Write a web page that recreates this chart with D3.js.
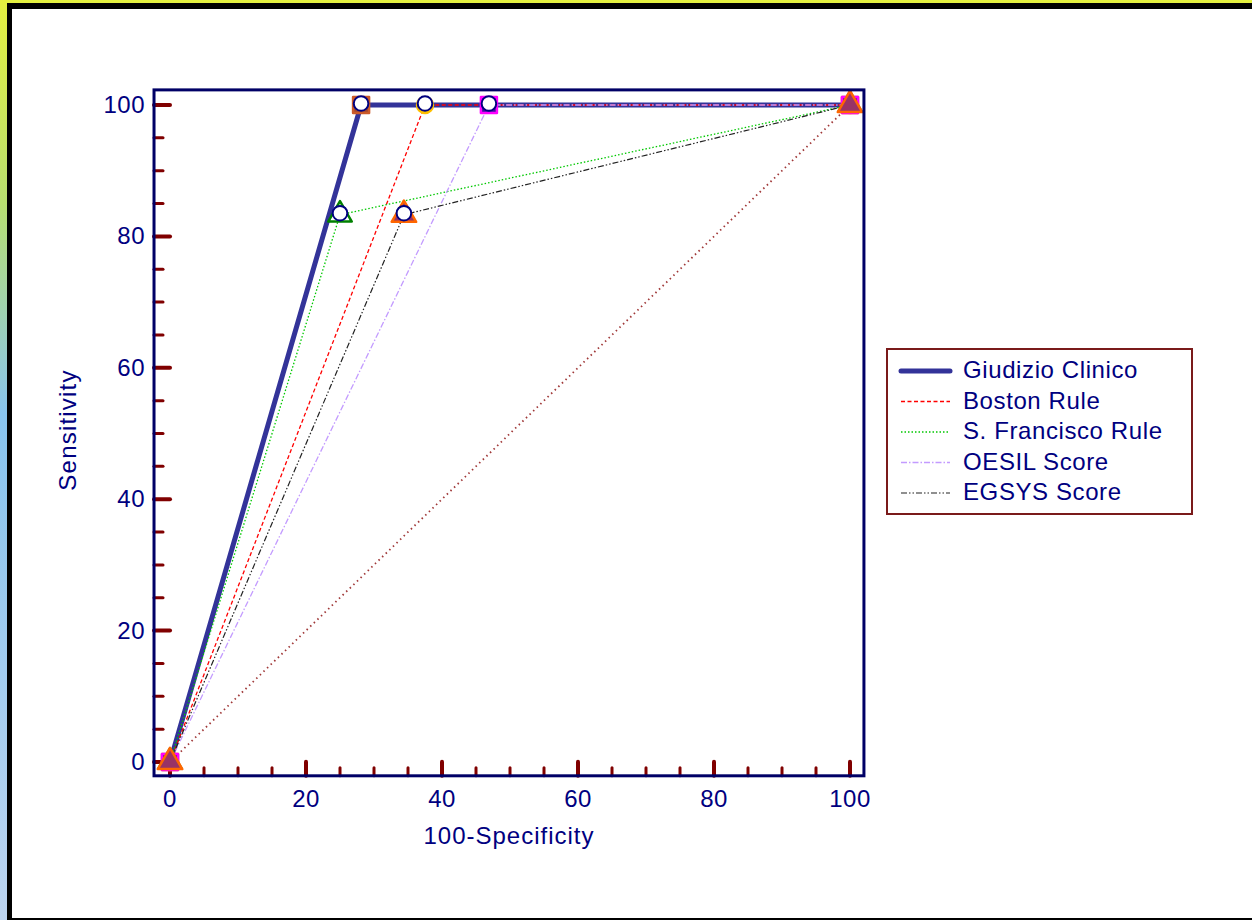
<!DOCTYPE html>
<html>
<head>
<meta charset="utf-8">
<script src="https://cdn.jsdelivr.net/npm/d3@7"></script>
<style>
  body { margin: 0; background: #fff; }
  text { font-family: "Liberation Sans", Arial, sans-serif; fill: #000080; }
</style>
</head>
<body>
<script>
// ROC data (100-Specificity, Sensitivity)
var seriesNames = ["Giudizio Clinico", "Boston Rule", "S. Francisco Rule", "OESIL Score", "EGSYS Score"];
var giudizioX = [0, 28.1, 100], giudizioY = [0, 100, 100];
var bostonX = [0, 37.5, 100], bostonY = [0, 100, 100];
var sfX = [0, 25.0, 100], sfY = [0, 83.3, 100];
var oesilX = [0, 46.9, 100], oesilY = [0, 100, 100];
var egsysX = [0, 34.4, 100], egsysY = [0, 83.3, 100];
// optimal criterion points (open circles)
var critX = [28.1, 37.5, 46.9, 25.0, 34.4];
var critY = [100, 100, 100, 83.3, 83.3];
var diagX = [0, 100], diagY = [0, 100];
var xTicks = [0, 20, 40, 60, 80, 100];
var yTicks = [0, 20, 40, 60, 80, 100];

var W = 1252, H = 920;
var svg = d3.select("body").append("svg")
	.attr("width", W)
	.attr("height", H);

// page decoration
var grad = svg.append("defs").append("linearGradient")
	.attr("id", "edge").attr("x1", 0).attr("y1", 0).attr("x2", 0).attr("y2", 1);
grad.append("stop").attr("offset", "0%").attr("stop-color", "#e4f040");
grad.append("stop").attr("offset", "22%").attr("stop-color", "#b8e070");
grad.append("stop").attr("offset", "45%").attr("stop-color", "#88c4ee");
grad.append("stop").attr("offset", "100%").attr("stop-color", "#bcd4f0");
svg.append("rect").attr("x", 0).attr("y", 0).attr("width", 8).attr("height", H).attr("fill", "url(#edge)");
svg.append("rect").attr("x", 0).attr("y", 0).attr("width", W).attr("height", 3).attr("fill", "#e4f040");
svg.append("rect").attr("x", 7).attr("y", 3).attr("width", W - 7).attr("height", 6).attr("fill", "#000");
svg.append("rect").attr("x", 7).attr("y", 3).attr("width", 5).attr("height", H - 3).attr("fill", "#000");
svg.append("rect").attr("x", 7).attr("y", 918).attr("width", W - 7).attr("height", 2).attr("fill", "#000");

var x = d3.scaleLinear().domain([0, 100]).range([170, 850]);
var y = d3.scaleLinear().domain([0, 100]).range([762, 105]);
var frameL = x(-2.35), frameR = x(102.05), frameT = y(102.3), frameB = y(-2.1);

// ticks (dark red, drawn inward)
var xMinor = d3.range(0, 101, 5).filter(function(d) { return d % 20 !== 0; });
var yMinor = xMinor;
var tickColor = "#800000";
svg.selectAll(".xmaj").data(xTicks).enter().append("line")
	.attr("x1", function(d) { return x(d); }).attr("x2", function(d) { return x(d); })
	.attr("y1", frameB).attr("y2", frameB - 14)
	.attr("stroke", tickColor).attr("stroke-width", 4).attr("stroke-linecap", "round");
svg.selectAll(".xmin").data(xMinor).enter().append("line")
	.attr("x1", function(d) { return x(d); }).attr("x2", function(d) { return x(d); })
	.attr("y1", frameB).attr("y2", frameB - 8)
	.attr("stroke", tickColor).attr("stroke-width", 3).attr("stroke-linecap", "round");
svg.selectAll(".ymaj").data(yTicks).enter().append("line")
	.attr("y1", function(d) { return y(d); }).attr("y2", function(d) { return y(d); })
	.attr("x1", frameL).attr("x2", frameL + 16)
	.attr("stroke", tickColor).attr("stroke-width", 4).attr("stroke-linecap", "round");
svg.selectAll(".ymin").data(yMinor).enter().append("line")
	.attr("y1", function(d) { return y(d); }).attr("y2", function(d) { return y(d); })
	.attr("x1", frameL).attr("x2", frameL + 9)
	.attr("stroke", tickColor).attr("stroke-width", 3).attr("stroke-linecap", "round");

// tick labels
svg.selectAll(".xlab").data(xTicks).enter().append("text")
	.attr("x", function(d) { return x(d); }).attr("y", 807)
	.attr("text-anchor", "middle").style("font-size", "24px").style("letter-spacing", "0.5px")
	.text(function(d) { return d; });
svg.selectAll(".ylab").data(yTicks).enter().append("text")
	.attr("x", 145).attr("y", function(d) { return y(d) + 8; })
	.attr("text-anchor", "end").style("font-size", "24px").style("letter-spacing", "0.5px")
	.text(function(d) { return d; });

svg.append("text").attr("x", 509).attr("y", 844)
	.attr("text-anchor", "middle").style("font-size", "24px").style("letter-spacing", "1px")
	.text("100-Specificity");
svg.append("text").attr("transform", "translate(76,430) rotate(-90)")
	.attr("text-anchor", "middle").style("font-size", "24px").style("letter-spacing", "1.2px")
	.text("Sensitivity");

// curves
var line = d3.line()
	.x(function(d) { return x(d[0]); })
	.y(function(d) { return y(d[1]); });
function pts(xs, ys) { return xs.map(function(v, i) { return [v, ys[i]]; }); }

var styles = [
	{ color: "#333399", width: 5, dash: null },
	{ color: "#ff0000", width: 1.3, dash: "4,2.5" },
	{ color: "#00c800", width: 1.3, dash: "1.5,2" },
	{ color: "#c39bff", width: 1.3, dash: "6,2,1.5,2" },
	{ color: "#222222", width: 1.2, dash: "6,2,1.5,2,1.5,2" }
];
var curves = [pts(giudizioX, giudizioY), pts(bostonX, bostonY), pts(sfX, sfY), pts(oesilX, oesilY), pts(egsysX, egsysY)];

var plot = svg.append("g");
plot.append("path").attr("d", line(pts(diagX, diagY)))
	.attr("fill", "none").attr("stroke", "#a03838").attr("stroke-width", 1.8)
	.attr("stroke-dasharray", "1.5,3.5");

curves.forEach(function(c, i) {
	plot.append("path").attr("d", line(c))
		.attr("fill", "none")
		.attr("stroke", styles[i].color)
		.attr("stroke-width", styles[i].width)
		.attr("stroke-dasharray", styles[i].dash)
		.attr("stroke-linejoin", "round");
});

// markers
var markers = [
	{ type: d3.symbolSquare, size: 256, fill: "#a04830", stroke: "#cc5a28" },
	{ type: d3.symbolCircle, size: 200, fill: "#ffcc00", stroke: "#ffc000" },
	{ type: d3.symbolTriangle, size: 240, fill: "#ffffff", stroke: "#008000" },
	{ type: d3.symbolSquare, size: 256, fill: "#3c10a0", stroke: "#ff00ff" },
	{ type: d3.symbolTriangle, size: 260, fill: "#993366", stroke: "#ff6600" }
];
curves.forEach(function(c, i) {
	plot.selectAll(".m" + i).data(c).enter().append("path")
		.attr("transform", function(d) { return "translate(" + x(d[0]) + "," + y(d[1]) + ")"; })
		.attr("d", d3.symbol().type(markers[i].type).size(markers[i].size))
		.attr("fill", markers[i].fill)
		.attr("stroke", markers[i].stroke)
		.attr("stroke-width", 2.5)
		.attr("stroke-linejoin", "round");
});

plot.selectAll(".crit").data(critX).enter().append("circle")
	.attr("cx", function(d) { return x(d); })
	.attr("cy", function(d, i) { return y(critY[i]) - 1.5; })
	.attr("r", 7.3)
	.attr("fill", "#fff").attr("stroke", "#000080").attr("stroke-width", 2);

// frame
svg.append("rect").attr("x", frameL).attr("y", frameT)
	.attr("width", frameR - frameL).attr("height", frameB - frameT)
	.attr("fill", "none").attr("stroke", "#000066").attr("stroke-width", 3);

// legend
var lg = svg.append("g");
lg.append("rect").attr("x", 887).attr("y", 349).attr("width", 305).attr("height", 165)
	.attr("fill", "#fff").attr("stroke", "#7a1a1a").attr("stroke-width", 2);
var rows = lg.selectAll(".row").data(seriesNames).enter().append("g")
	.attr("transform", function(d, i) { return "translate(0," + (378 + i * 30.5) + ")"; });
rows.append("line")
	.attr("x1", 901).attr("x2", 950).attr("y1", -7).attr("y2", -7)
	.attr("stroke", function(d, i) { return styles[i].color; })
	.attr("stroke-width", function(d, i) { return styles[i].width; })
	.attr("stroke-dasharray", function(d, i) { return styles[i].dash; })
	.attr("stroke-linecap", function(d, i) { return i === 0 ? "round" : "butt"; });
rows.append("text").attr("x", 963).attr("y", 0)
	.style("font-size", "24px").style("letter-spacing", "0.6px")
	.text(function(d) { return d; });
</script>
</body>
</html>
